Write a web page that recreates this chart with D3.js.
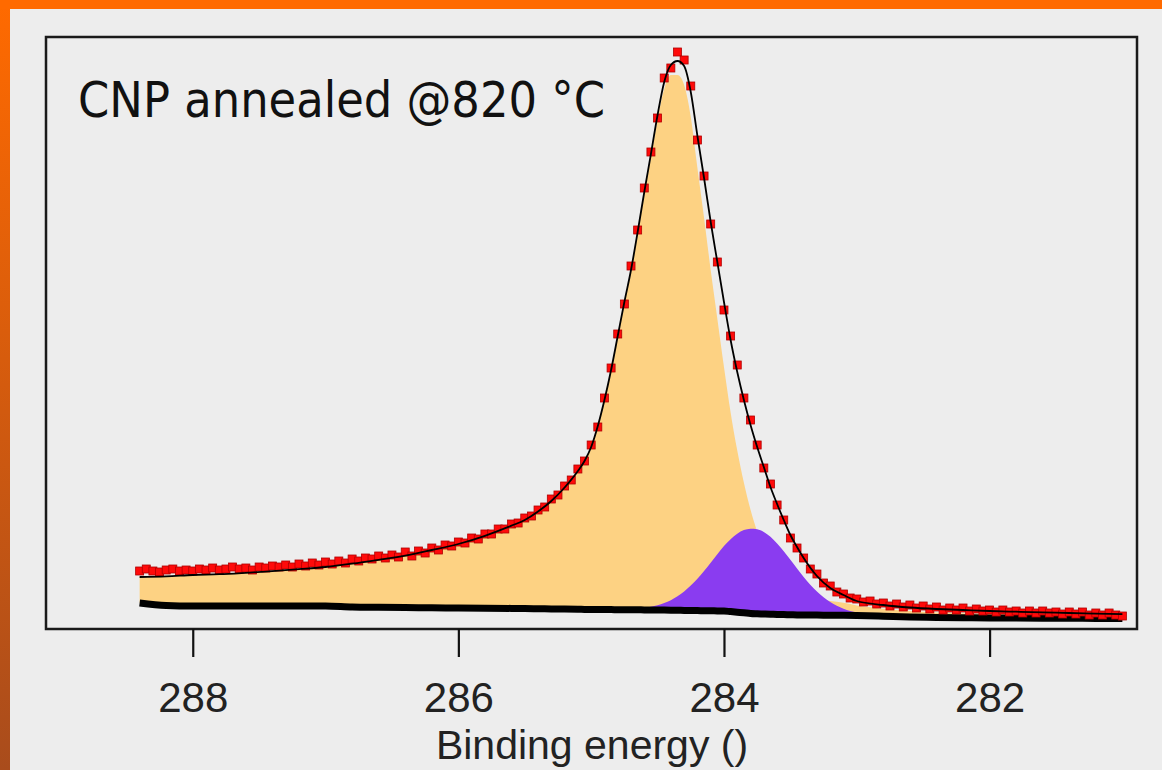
<!DOCTYPE html>
<html>
<head>
<meta charset="utf-8">
<script src="https://cdn.jsdelivr.net/npm/d3@7"></script>
<style>
  body { margin: 0; background: #ededed; }
  svg { display: block; }
</style>
</head>
<body>
<script>
// measured C 1s spectrum (binding energy in eV, intensity in a.u.)
var energy = [
  288.40, 288.35, 288.30, 288.25, 288.20, 288.15, 288.10, 288.05, 288.00, 287.95,
  287.90, 287.85, 287.80, 287.75, 287.70, 287.65, 287.60, 287.55, 287.50, 287.45,
  287.40, 287.35, 287.30, 287.25, 287.20, 287.15, 287.10, 287.05, 287.00, 286.95,
  286.90, 286.85, 286.80, 286.75, 286.70, 286.65, 286.60, 286.55, 286.50, 286.45,
  286.40, 286.35, 286.30, 286.25, 286.20, 286.15, 286.10, 286.05, 286.00, 285.95,
  285.90, 285.85, 285.80, 285.75, 285.70, 285.65, 285.60, 285.55, 285.50, 285.45,
  285.40, 285.35, 285.30, 285.25, 285.20, 285.15, 285.10, 285.05, 285.00, 284.95,
  284.90, 284.85, 284.80, 284.75, 284.70, 284.65, 284.60, 284.55, 284.50, 284.45,
  284.40, 284.35, 284.30, 284.25, 284.20, 284.15, 284.10, 284.05, 284.00, 283.95,
  283.90, 283.85, 283.80, 283.75, 283.70, 283.65, 283.60, 283.55, 283.50, 283.45,
  283.40, 283.35, 283.30, 283.25, 283.20, 283.15, 283.10, 283.05, 283.00, 282.95,
  282.90, 282.85, 282.80, 282.75, 282.70, 282.65, 282.60, 282.55, 282.50, 282.45,
  282.40, 282.35, 282.30, 282.25, 282.20, 282.15, 282.10, 282.05, 282.00, 281.95,
  281.90, 281.85, 281.80, 281.75, 281.70, 281.65, 281.60, 281.55, 281.50, 281.45,
  281.40, 281.35, 281.30, 281.25, 281.20, 281.15, 281.10, 281.05, 281.00
];
var counts = [
  11.6, 12.0, 11.6, 11.4, 11.8, 12.0, 11.6, 11.8, 11.6, 12.0,
  11.8, 12.2, 11.8, 12.0, 12.4, 12.0, 12.2, 11.8, 12.4, 12.2,
  12.6, 12.4, 12.8, 12.4, 13.0, 12.6, 13.2, 12.8, 13.4, 13.0,
  13.6, 13.2, 14.0, 13.6, 14.2, 14.0, 14.6, 14.2, 14.8, 14.4,
  15.4, 14.6, 15.6, 15.2, 16.2, 15.8, 16.8, 16.6, 17.4, 17.2,
  18.2, 18.0, 19.0, 19.0, 20.0, 20.0, 21.0, 21.2, 22.2, 22.6,
  23.8, 24.4, 26.0, 26.8, 28.6, 29.8, 32.0, 33.6, 36.8, 40.4,
  46.2, 52.2, 59.0, 65.0, 72.6, 79.8, 88.2, 95.4, 102.2, 110.2,
  112.2, 115.4, 113.8, 108.6, 97.8, 90.6, 81.0, 73.4, 63.8, 58.6,
  52.8, 46.2, 41.8, 36.8, 32.2, 29.0, 24.8, 21.8, 18.2, 16.2,
  14.2, 12.0, 11.0, 9.2, 8.6, 7.4, 7.0, 6.2, 6.0, 5.4,
  5.6, 5.0, 5.2, 4.6, 5.0, 4.4, 4.8, 4.2, 4.6, 4.0,
  4.4, 3.8, 4.2, 3.8, 4.2, 3.6, 4.0, 3.6, 3.8, 3.4,
  3.8, 3.4, 3.6, 3.2, 3.6, 3.2, 3.6, 3.2, 3.4, 3.0,
  3.4, 3.0, 3.4, 2.8, 3.2, 2.8, 3.2, 2.8, 2.6
];

// fit: energies, envelope, Shirley background and the two components
var fitEnergy = [
  288.4, 288.2, 288.0, 287.8, 287.6, 287.4, 287.2, 287.0, 286.8, 286.6,
  286.4, 286.2, 286.0, 285.8, 285.6, 285.5, 285.4, 285.3, 285.2, 285.1,
  285.05, 285.0, 284.95, 284.9, 284.85, 284.8, 284.75, 284.7, 284.65, 284.6,
  284.55, 284.5, 284.45, 284.4, 284.35, 284.3, 284.25, 284.2, 284.15, 284.1,
  284.05, 284.0, 283.95, 283.9, 283.85, 283.8, 283.75, 283.7, 283.65, 283.6,
  283.55, 283.5, 283.45, 283.4, 283.3, 283.2, 283.1, 283.0, 282.8, 282.6,
  282.4, 282.2, 282.0, 281.8, 281.6, 281.4, 281.2, 281.0
];
var envelope = [
  10.4, 10.52, 10.8, 10.96, 11.24, 11.56, 11.96, 12.4, 13.06, 13.84,
  14.68, 15.8, 17.0, 18.64, 20.66, 21.8, 23.5, 25.6, 28.3, 31.6,
  33.6, 36.4, 40.6, 45.8, 51.8, 58.6, 65.4, 71.8, 79.4, 87.4,
  95.0, 102.8, 109.4, 112.8, 113.6, 112.6, 107.4, 98.6, 90.2, 81.4,
  73.4, 65.4, 57.8, 51.4, 45.8, 40.8, 36.4, 32.4, 28.4, 25.0,
  21.8, 18.8, 16.4, 14.2, 10.6, 8.2, 6.8, 5.6, 4.8, 4.3,
  4.0, 3.8, 3.6, 3.46, 3.34, 3.2, 3.08, 2.96
];
var background = [
  5.2, 4.7, 4.6, 4.6, 4.6, 4.6, 4.6, 4.6, 4.4, 4.34,
  4.3, 4.24, 4.2, 4.16, 4.12, 4.1, 4.06, 4.02, 3.98, 3.94,
  3.92, 3.9, 3.9, 3.88, 3.88, 3.86, 3.86, 3.84, 3.84, 3.82,
  3.82, 3.8, 3.78, 3.76, 3.74, 3.72, 3.7, 3.68, 3.66, 3.64,
  3.62, 3.6, 3.48, 3.36, 3.24, 3.1, 3.04, 3.0, 2.96, 2.9,
  2.88, 2.84, 2.82, 2.8, 2.78, 2.76, 2.74, 2.7, 2.56, 2.4,
  2.32, 2.26, 2.2, 2.18, 2.16, 2.14, 2.12, 2.1
];
// sp2 component (above background)
var peakSp2 = [
  5.2, 5.82, 6.2, 6.36, 6.64, 6.96, 7.36, 7.8, 8.66, 9.5,
  10.38, 11.56, 12.8, 14.48, 16.54, 17.7, 19.44, 21.58, 24.32, 27.66,
  29.68, 32.5, 36.7, 41.92, 47.92, 54.68, 61.44, 67.8, 75.3, 83.18,
  90.54, 98.04, 104.22, 107.04, 107.06, 105.1, 98.72, 88.54, 78.6, 68.14,
  58.44, 48.8, 39.84, 32.34, 26.02, 20.74, 16.44, 13.0, 9.96, 7.9,
  6.26, 4.96, 4.3, 3.78, 3.1, 2.82, 2.5, 2.0, 1.5, 1.2,
  1.0, 0.9, 0.8, 0.7, 0.6, 0.5, 0.5, 0.4
];
// low binding energy component (above background)
var peakLow = [
  0, 0, 0, 0, 0, 0, 0, 0, 0, 0,
  0, 0, 0, 0, 0, 0, 0, 0, 0, 0,
  0, 0, 0, 0, 0, 0.05, 0.09, 0.15, 0.26, 0.4,
  0.64, 0.96, 1.4, 2.0, 2.8, 3.78, 4.98, 6.38, 7.94, 9.62,
  11.34, 13.0, 14.48, 15.7, 16.54, 16.96, 16.92, 16.4, 15.48, 14.2,
  12.66, 11.0, 9.28, 7.62, 4.72, 2.62, 1.3, 0.58, 0.08, 0,
  0, 0, 0, 0, 0, 0, 0, 0
];

var xTicks = [288, 286, 284, 282];
var title = "CNP annealed @820 °C";
var xTitle = "Binding energy ()";

var W = 1162, H = 770;
var box = {left: 46, top: 37, right: 1137, bottom: 629};

var svg = d3.select("body")
            .append("svg")
            .attr("width", W)
            .attr("height", H);

// frame colour bands
var grad = svg.append("defs").append("linearGradient")
    .attr("id", "edge")
    .attr("x1", 0).attr("y1", 0).attr("x2", 0).attr("y2", 1);
grad.append("stop").attr("offset", "0%").attr("stop-color", "#ff6a00");
grad.append("stop").attr("offset", "100%").attr("stop-color", "#a94c1c");

svg.append("rect").attr("x", 0).attr("y", 0).attr("width", W).attr("height", H).attr("fill", "#ededed");
svg.append("rect").attr("x", 0).attr("y", 0).attr("width", 10).attr("height", H).attr("fill", "url(#edge)");
svg.append("rect").attr("x", 0).attr("y", 0).attr("width", W).attr("height", 9).attr("fill", "#ff6a00");

//scales (binding energy runs right to left)
var xScale = d3.scaleLinear()
            .domain([289.105, 280.89])
            .range([box.left, box.right]);

var yScale = d3.scaleLinear()
            .domain([0, 118.4])
            .range([box.bottom, box.top]);

var fit = fitEnergy.map(function(e, i){
    return {e: e, env: envelope[i], bg: background[i], c1: peakSp2[i], c2: peakLow[i]};
});

var plot = svg.append("g");

//component fills
plot.append("path")
    .datum(fit)
    .attr("fill", "#fdd283")
    .attr("d", d3.area()
        .curve(d3.curveMonotoneX)
        .x(function(d){ return xScale(d.e); })
        .y0(function(d){ return yScale(d.bg); })
        .y1(function(d){ return yScale(d.bg + d.c1); }));

plot.append("path")
    .datum(fit.filter(function(d){ return d.e <= 284.85 && d.e >= 282.6; }))
    .attr("fill", "#8a3cf0")
    .attr("d", d3.area()
        .curve(d3.curveMonotoneX)
        .x(function(d){ return xScale(d.e); })
        .y0(function(d){ return yScale(d.bg); })
        .y1(function(d){ return yScale(d.bg + d.c2); }));

//background line
plot.append("path")
    .datum(fit)
    .attr("fill", "none")
    .attr("stroke", "#000")
    .attr("stroke-width", 7)
    .attr("d", d3.line()
        .curve(d3.curveMonotoneX)
        .x(function(d){ return xScale(d.e); })
        .y(function(d){ return yScale(d.bg); }));

//data points
var pts = energy.map(function(e, i){ return [e, counts[i]]; });
plot.selectAll(".pt")
    .data(pts)
    .enter()
    .append("rect")
    .attr("class", "pt")
    .attr("x", function(d){ return xScale(d[0]) - 4; })
    .attr("y", function(d){ return yScale(d[1]) - 4; })
    .attr("width", 8)
    .attr("height", 8)
    .attr("fill", "#ff0a0a")
    .attr("stroke", "#b00000")
    .attr("stroke-width", 0.8);

//fit envelope
plot.append("path")
    .datum(fit)
    .attr("fill", "none")
    .attr("stroke", "#000")
    .attr("stroke-width", 1.8)
    .attr("d", d3.line()
        .curve(d3.curveMonotoneX)
        .x(function(d){ return xScale(d.e); })
        .y(function(d){ return yScale(d.env); }));

//frame
svg.append("rect")
    .attr("x", box.left)
    .attr("y", box.top)
    .attr("width", box.right - box.left)
    .attr("height", box.bottom - box.top)
    .attr("fill", "none")
    .attr("stroke", "#1a1a1a")
    .attr("stroke-width", 2.5);

//x axis
var xAxis = svg.append("g")
    .attr("transform", "translate(0," + box.bottom + ")")
    .call(d3.axisBottom(xScale).tickValues(xTicks).tickSize(28).tickPadding(25).tickFormat(d3.format("d")));
xAxis.select(".domain").remove();
xAxis.selectAll(".tick line").attr("stroke", "#111").attr("stroke-width", 2.2);
xAxis.selectAll(".tick text")
    .attr("fill", "#222")
    .style("font-family", "'Liberation Sans', Arial, sans-serif")
    .style("font-size", "42px");

//axis title
svg.append("text")
    .attr("x", 592)
    .attr("y", 759)
    .attr("text-anchor", "middle")
    .attr("fill", "#222")
    .style("font-family", "'Liberation Sans', Arial, sans-serif")
    .style("font-size", "41px")
    .text(xTitle);

//sample label
svg.append("text")
    .attr("x", 78)
    .attr("y", 117)
    .attr("textLength", 527)
    .attr("lengthAdjust", "spacingAndGlyphs")
    .attr("fill", "#111")
    .style("font-family", "'Comic Sans MS', 'DejaVu Sans', sans-serif")
    .style("font-size", "50px")
    .text(title);
</script>
</body>
</html>
